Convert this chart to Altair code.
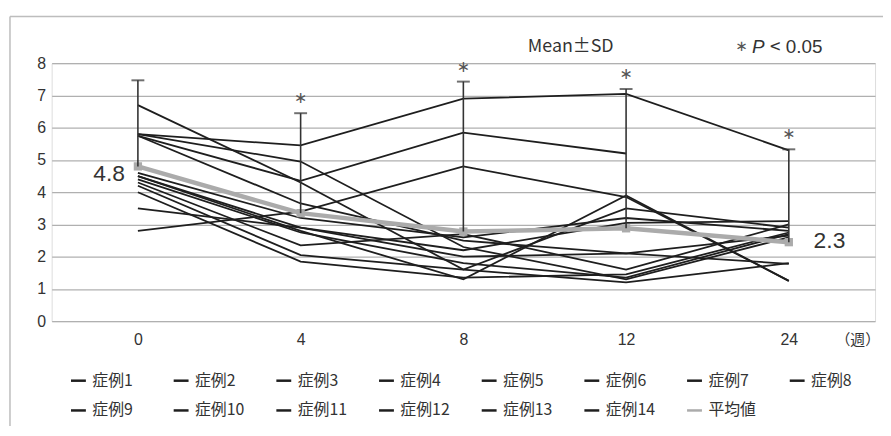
import altair as alt
import pandas as pd

weeks = ["0", "4", "8", "12", "24"]
case_names = [f"症例{i}" for i in range(1, 15)]
case_values = [
    [5.8, 5.45, 6.9, 7.05, 5.3],
    [5.75, 4.35, 5.85, 5.2, None],
    [2.8, 3.4, 4.8, 3.85, 1.25],
    [6.7, 4.3, 1.6, 3.5, 2.9],
    [5.8, 4.95, 2.3, 1.3, 2.6],
    [5.75, 3.65, 2.5, 2.1, 2.65],
    [4.6, 3.2, 2.6, 3.2, 2.8],
    [4.5, 2.9, 2.2, 3.05, 3.1],
    [4.5, 2.8, 1.3, 3.9, 1.25],
    [4.4, 2.75, 1.8, 1.35, 2.7],
    [4.3, 2.35, 2.7, 1.6, 3.0],
    [4.2, 2.05, 1.6, 1.2, 1.8],
    [4.0, 1.85, 1.35, 1.45, 2.75],
    [3.5, 2.9, 2.0, 2.1, 1.78],
]
mean_name = "平均値"
mean_values = [4.8, 3.35, 2.78, 2.88, 2.45]
sd_values = [2.67, 3.1, 4.65, 4.32, 2.88]
stars = ["", "∗", "∗", "∗", "∗"]
mean_labels = ["4.8", "", "", "", "2.3"]
y_ticks = [0, 1, 2, 3, 4, 5, 6, 7, 8]

JP = "Noto Sans CJK JP"
LAT = "Liberation Sans"

rows = []
for name, vals in zip(case_names, case_values):
    for w, v in zip(weeks, vals):
        rows.append({"week": w, "value": v, "case": name})
cases_df = pd.DataFrame(rows)

mean_df = pd.DataFrame({
    "week": weeks,
    "value": mean_values,
    "top": [m + s for m, s in zip(mean_values, sd_values)],
    "star": stars,
    "label": mean_labels,
    "case": [mean_name] * len(weeks),
})

domain = case_names + [mean_name]
colors = ["#1e1e1e"] * 14 + ["#ababab"]

x_axis = alt.Axis(
    title="（週）", titleFont=JP, titleFontSize=15, titleFontWeight="normal",
    titleColor="#333", titleX=812, titleY=19,
    titleAlign="center", titleBaseline="middle", titleAngle=0,
    labelAngle=0, labelFont=LAT, labelFontSize=16, labelColor="#333",
    labelPadding=11, ticks=False, domain=False, grid=False,
)
x_scale = alt.Scale(type="point", padding=0.53)
y_axis = alt.Axis(
    title=None, values=y_ticks, labelFont=LAT, labelFontSize=16,
    labelColor="#333", labelPadding=6, ticks=False, domain=False,
    grid=True, gridColor="#b0b0b0", gridWidth=1.3, labelOverlap=False,
)
y_scale = alt.Scale(domain=[0, 8], nice=False, zero=True)


def X():
    return alt.X("week:O", sort=weeks, scale=x_scale, axis=x_axis)


def Y(field):
    return alt.Y(f"{field}:Q", scale=y_scale, axis=y_axis)


color_enc = alt.Color(
    "case:N",
    scale=alt.Scale(domain=domain, range=colors),
    legend=alt.Legend(
        title=None, orient="none", legendX=18, legendY=311, columns=8,
        direction="horizontal", gridAlign="all", columnPadding=26.5, rowPadding=13,
        symbolType="stroke", symbolSize=225, symbolStrokeWidth=2.5,
        labelFont=JP, labelFontSize=16, labelColor="#333", labelOffset=5,
    ),
)

case_lines = alt.Chart(cases_df).mark_line(strokeWidth=1.8).encode(
    x=X(), y=Y("value"), color=color_enc, detail="case:N"
)

mean_line = alt.Chart(mean_df).mark_line(
    strokeWidth=4.5,
    point=alt.OverlayMarkDef(shape="square", size=70, color="#ababab", filled=True),
).encode(x=X(), y=Y("value"), color=color_enc)

err_rule = alt.Chart(mean_df).mark_rule(color="#333", strokeWidth=1.6).encode(
    x=X(), y=Y("value"), y2="top:Q"
)
err_cap = alt.Chart(mean_df).mark_tick(
    color="#333", thickness=2, size=13, orient="horizontal"
).encode(x=X(), y=Y("top"))

star_text = alt.Chart(mean_df).mark_text(
    font="DejaVu Sans", fontSize=16, color="#555", dy=-15, baseline="middle"
).encode(x=X(), y=Y("top"), text="star:N")

lab_left = alt.Chart(mean_df).transform_filter("datum.week == '0'").mark_text(
    font=LAT, fontSize=23, color="#333", align="right", baseline="middle", dx=-13, dy=8
).encode(x=X(), y=Y("value"), text="label:N")
lab_right = alt.Chart(mean_df).transform_filter("datum.week == '24'").mark_text(
    font=LAT, fontSize=23, color="#333", align="left", baseline="middle", dx=25, dy=-1
).encode(x=X(), y=Y("value"), text="label:N")

ann_mean = alt.Chart(pd.DataFrame({"t": ["Mean±SD"]})).mark_text(
    font=JP, fontSize=18, color="#333", align="left", baseline="middle"
).encode(x=alt.value(480), y=alt.value(-16), text="t:N")
ann_star = alt.Chart(pd.DataFrame({"t": ["∗"]})).mark_text(
    font="DejaVu Sans", fontSize=15, color="#555", align="left", baseline="middle"
).encode(x=alt.value(689), y=alt.value(-17), text="t:N")
ann_p = alt.Chart(pd.DataFrame({"t": ["P"]})).mark_text(
    font=LAT, fontSize=19, fontStyle="italic", color="#333", align="left", baseline="middle"
).encode(x=alt.value(706), y=alt.value(-16), text="t:N")
ann_lt = alt.Chart(pd.DataFrame({"t": ["<"]})).mark_text(
    font=JP, fontSize=19, color="#333", align="left", baseline="middle"
).encode(x=alt.value(724), y=alt.value(-16), text="t:N")
ann_num = alt.Chart(pd.DataFrame({"t": ["0.05"]})).mark_text(
    font=LAT, fontSize=19, color="#333", align="left", baseline="middle"
).encode(x=alt.value(740), y=alt.value(-16), text="t:N")

frame_top = alt.Chart(pd.DataFrame({"a": [0]})).mark_rule(color="#bdbdbd", strokeWidth=1.5).encode(
    x=alt.value(-42), x2=alt.value(840), y=alt.value(-47)
)
frame_left = alt.Chart(pd.DataFrame({"a": [0]})).mark_rule(color="#bdbdbd", strokeWidth=1.5).encode(
    x=alt.value(-42), y=alt.value(-47), y2=alt.value(372)
)

chart = alt.layer(
    frame_top, frame_left,
    case_lines, mean_line, err_rule, err_cap, star_text, lab_left, lab_right,
    ann_mean, ann_star, ann_p, ann_lt, ann_num,
).properties(
    width=830, height=260,
    autosize=alt.AutoSizeParams(type="none"),
    padding={"left": 44, "top": 54, "right": 8, "bottom": 104},
).configure_view(stroke=None).configure(background="white")

chart.save("out.html", embed_options={"renderer": "svg", "actions": False})
